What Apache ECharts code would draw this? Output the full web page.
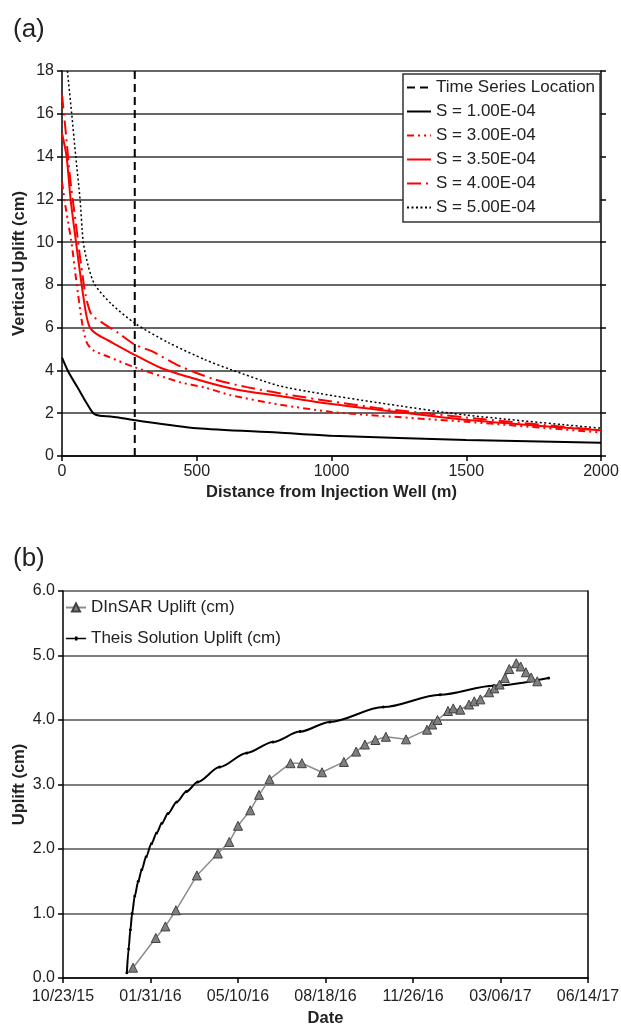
<!DOCTYPE html>
<html lang="en">
<head>
<meta charset="UTF-8">
<title>Uplift</title>
<script src="https://cdn.jsdelivr.net/npm/echarts@6/dist/echarts.min.js"></script>
<style>
    html, body { margin: 0; padding: 0; background: #fff; }
    #main { width: 621px; height: 1026px; }
</style>
</head>
<body>
<div id="main"></div>
<script>
// (a) uplift vs distance, [distance m, uplift cm]
var timeSeriesLoc = 270;
var s100 = [[0,4.6],[25,3.9],[58,3.2],[90,2.5],[116,2.0],[140,1.88],[180,1.85],[210,1.8],[265,1.68],[500,1.3],[800,1.1],[1000,0.95],[1500,0.75],[2000,0.62]];
var s300 = [[0,12.8],[15,11.5],[35,10],[55,8],[75,6.2],[92,5.3],[115,4.95],[170,4.65],[270,4.15],[438,3.45],[531,3.2],[624,2.85],[809,2.4],[995,2.07],[1131,1.92],[1500,1.6],[2000,1.1]];
var s350 = [[0,15.1],[17,14],[32,12],[52,10],[73,8],[90,6.6],[104,6.0],[129,5.7],[172,5.4],[271,4.72],[370,4.1],[531,3.47],[650,3.1],[809,2.8],[958,2.5],[1180,2.15],[1496,1.7],[2000,1.2]];
var s400 = [[0,16.9],[15,15],[30,13],[50,11],[70,9],[88,7.5],[110,6.6],[153,6.2],[203,5.8],[271,5.2],[333,4.9],[438,4.2],[562,3.6],[686,3.22],[871,2.8],[1168,2.25],[1500,1.8],[2000,1.2]];
var s500 = [[20,18],[36,16],[51,14],[67,12],[79,10],[98,8.85],[122,8.0],[184,7.1],[271,6.2],[395,5.3],[531,4.5],[624,4.05],[800,3.3],[958,2.92],[1168,2.5],[1496,1.92],[2000,1.3]];

// (b) uplift vs date
var dinsarDates = ['2016-01-11','2016-02-06','2016-02-17','2016-02-29','2016-03-24','2016-04-17','2016-04-30','2016-05-10','2016-05-24','2016-06-03','2016-06-15','2016-07-09','2016-07-22','2016-08-14','2016-09-08','2016-09-22','2016-10-02','2016-10-14','2016-10-26','2016-11-18','2016-12-12','2016-12-18','2016-12-24','2017-01-05','2017-01-11','2017-01-19','2017-01-29','2017-02-04','2017-02-11','2017-02-21','2017-02-27','2017-03-05','2017-03-11','2017-03-16','2017-03-24','2017-03-29','2017-04-04','2017-04-10','2017-04-17'];
var dinsarUplift = [0.16,0.62,0.80,1.05,1.59,1.93,2.11,2.36,2.60,2.84,3.08,3.33,3.33,3.19,3.35,3.51,3.62,3.69,3.74,3.70,3.85,3.93,4.00,4.14,4.18,4.16,4.24,4.29,4.32,4.43,4.49,4.55,4.65,4.79,4.88,4.83,4.74,4.66,4.60];
var theisDates = ['2016-01-04','2016-01-06','2016-01-08','2016-01-10','2016-01-13','2016-01-17','2016-01-21','2016-01-26','2016-02-01','2016-02-07','2016-02-13','2016-02-20','2016-03-01','2016-03-12','2016-03-25','2016-04-19','2016-05-20','2016-06-19','2016-07-20','2016-08-23','2016-10-23','2016-12-27','2017-02-26','2017-04-30'];
var theisUplift = [0.08,0.45,0.75,1.0,1.27,1.5,1.68,1.88,2.08,2.25,2.4,2.55,2.73,2.89,3.04,3.27,3.49,3.66,3.82,3.97,4.2,4.39,4.53,4.65];

// excel style day numbers so the 100 day ticks land on 10/23/15
var EPOCH = Date.UTC(1899, 11, 30);
function serial(s) {
    var p = s.split('-');
    return (Date.UTC(+p[0], +p[1] - 1, +p[2]) - EPOCH) / 864e5;
}
function fmtDate(v) {
    var d = new Date(EPOCH + v * 864e5);
    var mm = ('0' + (d.getUTCMonth() + 1)).slice(-2);
    var dd = ('0' + d.getUTCDate()).slice(-2);
    var yy = ('' + d.getUTCFullYear()).slice(-2);
    return mm + '/' + dd + '/' + yy;
}
function pairs(dates, vals) {
    return dates.map(function(d, i) { return [serial(d), vals[i]]; });
}

var FONT = '"Liberation Sans", Arial, sans-serif';
var axisBlack = { show: true, lineStyle: { color: '#000', width: 1.5 } };
var tickOut = { show: true, length: 5, lineStyle: { color: '#000', width: 1.5 } };
var lbl = { fontSize: 16, color: '#222', fontFamily: FONT };
var nameStyle = { fontSize: 16.5, fontWeight: 'bold', color: '#222', fontFamily: FONT };

function redLine(name, data, type) {
    return {
        name: name, type: 'line', xAxisIndex: 0, yAxisIndex: 0,
        data: data, symbol: 'none', smooth: 0.25,
        lineStyle: { color: '#ff0000', width: 2, type: type },
        itemStyle: { color: '#ff0000' }
    };
}

var myChart = echarts.init(document.getElementById('main'));
var option = {
    backgroundColor: '#fff',
    animation: false,
    textStyle: { fontFamily: FONT },
    title: [
        { text: '(a)', left: 8, top: 12, textStyle: { fontSize: 26, fontWeight: 'normal', color: '#222', fontFamily: FONT } },
        { text: '(b)', left: 8, top: 541, textStyle: { fontSize: 26, fontWeight: 'normal', color: '#222', fontFamily: FONT } }
    ],
    legend: [{
        orient: 'vertical', left: 403, top: 74,
        padding: [5, 5, 6, 3], itemGap: 7, itemWidth: 24, itemHeight: 14,
        backgroundColor: '#fff', borderColor: '#333', borderWidth: 1.5,
        itemStyle: { opacity: 0 },
        textStyle: { fontSize: 17, color: '#222', lineHeight: 16, fontFamily: FONT },
        data: ['Time Series Location', 'S = 1.00E-04', 'S = 3.00E-04', 'S = 3.50E-04', 'S = 4.00E-04', 'S = 5.00E-04']
    }, {
        orient: 'vertical', left: 60, top: 594,
        itemGap: 14, itemWidth: 20, itemHeight: 10,
        textStyle: { fontSize: 17, color: '#222', lineHeight: 17, fontFamily: FONT },
        data: ['DInSAR Uplift (cm)', {
            name: 'Theis Solution Uplift (cm)',
            icon: 'path://M0,4.3L20,4.3L20,5.7L0,5.7Z M9,3L11.5,3L11.5,7L9,7Z'
        }]
    }],
    grid: [
        { left: 62, top: 71, width: 539, height: 385, outerBoundsMode: 'none' },
        { left: 63, top: 591, width: 525, height: 387, outerBoundsMode: 'none' }
    ],
    xAxis: [{
        gridIndex: 0, type: 'value', min: 0, max: 2000, interval: 500,
        axisLine: axisBlack, axisTick: tickOut,
        axisLabel: Object.assign({ margin: 8, formatter: function(v) { return String(v); } }, lbl),
        splitLine: { show: false },
        name: 'Distance from Injection Well (m)', nameLocation: 'middle', nameGap: 28, nameTextStyle: nameStyle
    }, {
        gridIndex: 1, type: 'value', min: 42300, max: 42900, interval: 100,
        axisLine: axisBlack, axisTick: tickOut,
        axisLabel: Object.assign({ margin: 11, formatter: fmtDate }, lbl),
        splitLine: { show: false },
        name: 'Date', nameLocation: 'middle', nameGap: 32, nameTextStyle: nameStyle
    }],
    yAxis: [{
        gridIndex: 0, type: 'value', min: 0, max: 18, interval: 2,
        axisLine: axisBlack, axisTick: tickOut, axisLabel: Object.assign({ margin: 8 }, lbl),
        splitLine: { show: true, lineStyle: { color: '#333', width: 1.5 } },
        name: 'Vertical Uplift (cm)', nameLocation: 'middle', nameGap: 34, nameRotate: 90,
        nameMoveOverlap: false, nameTextStyle: nameStyle
    }, {
        gridIndex: 0, type: 'value', position: 'right', min: 0, max: 18, interval: 2,
        axisLine: axisBlack, axisTick: tickOut, axisLabel: { show: false }, splitLine: { show: false }
    }, {
        gridIndex: 1, type: 'value', min: 0, max: 6, interval: 1,
        axisLine: axisBlack, axisTick: tickOut,
        axisLabel: Object.assign({ margin: 8, formatter: function(v) { return v.toFixed(1); } }, lbl),
        splitLine: { show: true, lineStyle: { color: '#555', width: 1.5 } },
        name: 'Uplift (cm)', nameLocation: 'middle', nameGap: 35, nameRotate: 90,
        nameMoveOverlap: false, nameTextStyle: nameStyle
    }, {
        gridIndex: 1, type: 'value', position: 'right', min: 0, max: 6, interval: 1,
        axisLine: axisBlack, axisTick: { show: false }, axisLabel: { show: false }, splitLine: { show: false }
    }],
    series: [{
        name: 'Time Series Location', type: 'line', xAxisIndex: 0, yAxisIndex: 0,
        data: [[timeSeriesLoc, 0], [timeSeriesLoc, 18]], symbol: 'none',
        lineStyle: { color: '#000', width: 2, type: [8, 5] }, itemStyle: { color: '#000' }
    }, {
        name: 'S = 1.00E-04', type: 'line', xAxisIndex: 0, yAxisIndex: 0,
        data: s100, symbol: 'none', smooth: 0.25,
        lineStyle: { color: '#000', width: 2 }, itemStyle: { color: '#000' }
    },
        redLine('S = 3.00E-04', s300, [7, 4, 2, 4, 2, 4]),
        redLine('S = 3.50E-04', s350, 'solid'),
        redLine('S = 4.00E-04', s400, [14, 5, 2, 5]),
    {
        name: 'S = 5.00E-04', type: 'line', xAxisIndex: 0, yAxisIndex: 0,
        data: s500, symbol: 'none', smooth: 0.25,
        lineStyle: { color: '#000', width: 1.5, type: [2, 2.5] }, itemStyle: { color: '#000' }
    }, {
        name: 'Theis Solution Uplift (cm)', type: 'line', xAxisIndex: 1, yAxisIndex: 2,
        data: pairs(theisDates, theisUplift), smooth: 0.3, smoothMonotone: 'x',
        symbol: 'circle', symbolSize: 3, showSymbol: true,
        lineStyle: { color: '#000', width: 2 }, itemStyle: { color: '#000' }
    }, {
        name: 'DInSAR Uplift (cm)', type: 'line', xAxisIndex: 1, yAxisIndex: 2, z: 3,
        data: pairs(dinsarDates, dinsarUplift),
        symbol: 'triangle', symbolSize: 9,
        lineStyle: { color: '#8c8c8c', width: 1.5 },
        itemStyle: { color: '#7f7f7f', borderColor: '#404040', borderWidth: 1 }
    }]
};
myChart.setOption(option);
</script>
</body>
</html>
